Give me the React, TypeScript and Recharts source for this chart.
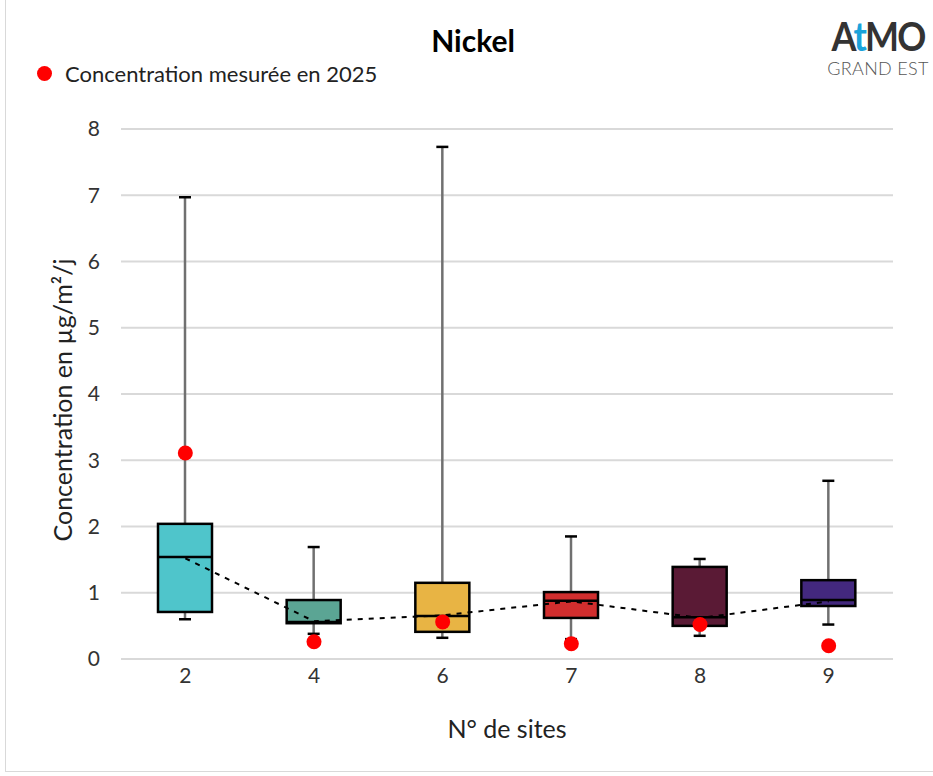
import React from 'react'
import {
  ComposedChart,
  Bar,
  Line,
  XAxis,
  YAxis,
  CartesianGrid,
  Label,
} from 'recharts'

// ─── données ──────────────────────────────────────────────

const SITES = ['2', '4', '6', '7', '8', '9']
const WHISKER_MIN = [0.6, 0.38, 0.32, 0.3, 0.35, 0.52]
const Q1 = [0.71, 0.54, 0.41, 0.62, 0.5, 0.8]
const MEDIAN = [1.54, 0.56, 0.65, 0.88, 0.63, 0.89]
const Q3 = [2.04, 0.89, 1.15, 1.01, 1.39, 1.19]
const WHISKER_MAX = [6.97, 1.69, 7.73, 1.85, 1.51, 2.69]
const MEAN = [1.52, 0.57, 0.66, 0.87, 0.62, 0.87]
const MEASURED_2025 = [3.11, 0.26, 0.56, 0.23, 0.52, 0.2]
const Y_TICKS = [0, 1, 2, 3, 4, 5, 6, 7, 8]

const BOX_COLORS = ['#4FC5CB', '#5BA594', '#E8B444', '#D12E2E', '#5A1A35', '#43287E']

const FONT = 'Lato, "Open Sans", sans-serif'

const data = SITES.map((site, i) => ({
  site,
  range: [WHISKER_MIN[i], WHISKER_MAX[i]],
  min: WHISKER_MIN[i],
  q1: Q1[i],
  median: MEDIAN[i],
  q3: Q3[i],
  max: WHISKER_MAX[i],
  mean: MEAN[i],
  measured: MEASURED_2025[i],
  color: BOX_COLORS[i],
}))

// boîte à moustaches dessinée à partir de la barre [min, max]
function BoxShape(props: any) {
  const { x, y, width, height, payload } = props
  if (!payload) return null
  const top = Math.min(y, y + height)
  const h = Math.abs(height)
  const k = h / (payload.max - payload.min)
  const py = (v: number) => top + (payload.max - v) * k
  const cx = x + width / 2
  const cap = 6
  return (
    <g>
      <line x1={cx} x2={cx} y1={py(payload.max)} y2={py(payload.min)} stroke="#707070" strokeWidth={2.5} />
      <line x1={cx - cap} x2={cx + cap} y1={py(payload.max)} y2={py(payload.max)} stroke="#000" strokeWidth={2.5} />
      <line x1={cx - cap} x2={cx + cap} y1={py(payload.min)} y2={py(payload.min)} stroke="#000" strokeWidth={2.5} />
      <rect
        x={x}
        y={py(payload.q3)}
        width={width}
        height={py(payload.q1) - py(payload.q3)}
        fill={payload.color}
        stroke="#000"
        strokeWidth={2.5}
      />
      <line x1={x} x2={x + width} y1={py(payload.median)} y2={py(payload.median)} stroke="#000" strokeWidth={2.5} />
    </g>
  )
}

function RedDot(props: any) {
  const { cx, cy } = props
  if (cx == null || cy == null) return null
  return <circle cx={cx} cy={cy} r={7.5} fill="#FF0000" />
}

export default function App() {
  return (
    <div style={{ position: 'absolute', left: 0, top: 0, width: 933, height: 776, background: '#fff', fontFamily: FONT }}>
      <div style={{ position: 'absolute', left: 5, top: 0, width: 928, height: 771, borderLeft: '1px solid #d9d9d9', borderBottom: '1px solid #d9d9d9' }} />
      <div style={{ position: 'absolute', left: 0, width: 946, top: 22, textAlign: 'center', fontSize: 30, fontWeight: 700, color: '#000' }}>
        Nickel
      </div>
      {/* logo */}
      <div style={{ position: 'absolute', left: 826, top: 13, width: 104, textAlign: 'center', color: '#333' }}>
        <div style={{ fontSize: 40, fontWeight: 700, lineHeight: '46px', letterSpacing: -2, transform: 'scaleX(0.9)' }}>
          A<span style={{ color: '#1AA3DB' }}>t</span>MO
        </div>
        <div style={{ fontSize: 18, fontWeight: 300, lineHeight: '18px', color: '#555', letterSpacing: 0.3 }}>GRAND EST</div>
      </div>
      {/* légende */}
      <div
        style={{
          position: 'absolute',
          left: 37,
          top: 60,
          display: 'flex',
          alignItems: 'center',
          fontSize: 22,
          color: '#222',
          zIndex: 2,
        }}
      >
        <span
          style={{ width: 15, height: 15, borderRadius: 8, background: '#FF0000', display: 'inline-block', marginRight: 13 }}
        />
        Concentration mesurée en 2025
      </div>
      <ComposedChart
        width={933}
        height={776}
        data={data}
        margin={{ top: 129, right: 40, bottom: 0, left: 0 }}
        style={{ fontFamily: FONT }}
      >
        <CartesianGrid vertical={false} stroke="#d9d9d9" strokeWidth={2} />
        <XAxis
          dataKey="site"
          height={117}
          axisLine={false}
          tickLine={false}
          tickSize={0}
          tickMargin={9}
          tick={{ fill: '#333', fontSize: 21 }}
        >
          <Label value="N° de sites" position="insideBottom" offset={38} style={{ fill: '#222', fontSize: 25 }} />
        </XAxis>
        <YAxis
          width={121}
          domain={[0, 8]}
          ticks={Y_TICKS}
          axisLine={false}
          tickLine={false}
          tickSize={0}
          tickMargin={21}
          tick={{ fill: '#333', fontSize: 21 }}
        >
          <Label
            value="Concentration en µg/m²/j"
            angle={-90}
            position="insideLeft"
            offset={63}
            dy={6}
            style={{ textAnchor: 'middle', fill: '#222', fontSize: 25 }}
          />
        </YAxis>
        <Bar dataKey="range" barSize={54} shape={<BoxShape />} isAnimationActive={false} />
        <Line
          dataKey="mean"
          stroke="#000"
          strokeWidth={2}
          strokeDasharray="5 6"
          dot={false}
          activeDot={false}
          isAnimationActive={false}
        />
        <Line
          dataKey="measured"
          stroke="none"
          strokeWidth={0}
          dot={<RedDot />}
          activeDot={false}
          isAnimationActive={false}
        />
      </ComposedChart>
    </div>
  )
}
